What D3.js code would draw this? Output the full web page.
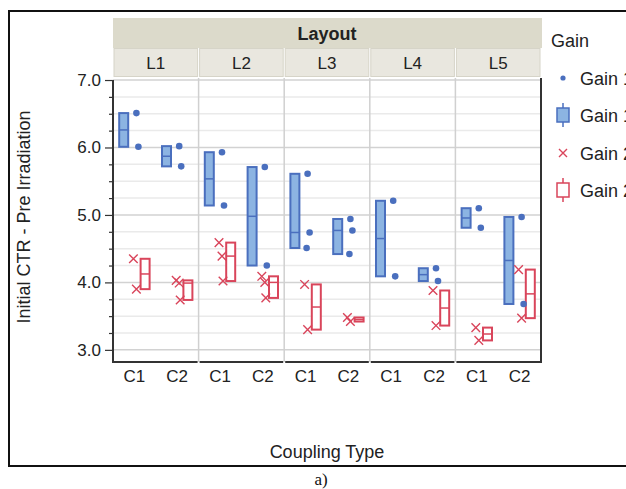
<!DOCTYPE html>
<html>
<head>
<meta charset="utf-8">
<script src="https://cdn.jsdelivr.net/npm/d3@7"></script>
<style>
  body { margin: 0; background: #fff; }
  svg { display: block; font-family: "Liberation Sans", Arial, sans-serif; }
</style>
</head>
<body>
<div id="chart"></div>
<script>
// data, one entry per layout (L1..L5)
const layouts = ["L1", "L2", "L3", "L4", "L5"];
const couplings = ["C1", "C2"];
const gains = ["Gain 1", "Gain 2"];

const gain1C1 = [[6.51, 6.01], [5.93, 5.14], [5.61, 4.74, 4.51], [5.21, 4.09], [5.10, 4.81]];
const gain1C2 = [[6.02, 5.72], [5.71, 4.25], [4.94, 4.77, 4.42], [4.21, 4.02], [4.97, 3.68]];
const gain2C1 = [[4.35, 3.90], [4.59, 4.39, 4.02], [3.97, 3.30], [], [3.33, 3.14]];
const gain2C2 = [[4.03, 3.99, 3.74], [4.09, 4.00, 3.77], [3.48, 3.42], [3.88, 3.36], [4.19, 3.47]];

const yTicks = [3.0, 4.0, 5.0, 6.0, 7.0];

const width = 626, height = 489;
const plot = {left: 113, right: 541, top: 78, bottom: 362};
const blue = "#4a6fbe", blueFill = "#8cb4e2", red = "#d9455b";
const jitter1 = [2, 4, 1], jitter2 = [-1, 2, 3];

const svg = d3.select("#chart").append("svg")
    .attr("width", width)
    .attr("height", height);

svg.append("rect").attr("width", width).attr("height", height).attr("fill", "#fff");

// outer frame
svg.append("rect")
    .attr("x", 9).attr("y", 11)
    .attr("width", 700).attr("height", 455)
    .attr("fill", "none").attr("stroke", "#111").attr("stroke-width", 2);

const y = d3.scaleLinear().domain([2.82, 7.03]).range([plot.bottom, plot.top]);
const xPanel = d3.scaleBand().domain(layouts).range([plot.left, plot.right]);
const xCat = d3.scaleBand().domain(couplings).range([0, xPanel.bandwidth()]);
const xGain = d3.scaleBand().domain(gains).range([0, xCat.bandwidth()]);

// JMP style quantile
function jmpQ(sorted, p) {
    const n = sorted.length;
    const r = p * (n + 1);
    if (r <= 1) return sorted[0];
    if (r >= n) return sorted[n - 1];
    const i = Math.floor(r);
    return sorted[i - 1] + (r - i) * (sorted[i] - sorted[i - 1]);
}

// header strips
svg.append("rect")
    .attr("x", plot.left).attr("y", 18)
    .attr("width", plot.right - plot.left + 1).attr("height", 30)
    .attr("fill", "#dcdacb");
svg.append("text")
    .attr("x", (plot.left + plot.right) / 2).attr("y", 39.5)
    .attr("text-anchor", "middle")
    .style("font-size", "18px").style("font-weight", "bold").style("fill", "#222")
    .text("Layout");

layouts.forEach(L => {
    svg.append("rect")
        .attr("x", xPanel(L) + 1).attr("y", 48.5)
        .attr("width", xPanel.bandwidth() - 2).attr("height", 28)
        .attr("fill", "#e9e7df").attr("stroke", "#d6d4c8");
    svg.append("text")
        .attr("x", xPanel(L) + xPanel.bandwidth() / 2).attr("y", 68.5)
        .attr("text-anchor", "middle")
        .style("font-size", "17px").style("fill", "#222")
        .text(L);
});

// gridlines
const minor = d3.range(3.0, 7.01, 0.25);
const isMajor = d => Math.abs(d - Math.round(d)) < 1e-6;
svg.append("g").selectAll("line")
    .data(minor)
    .join("line")
    .attr("x1", plot.left).attr("x2", plot.right)
    .attr("y1", d => y(d)).attr("y2", d => y(d))
    .attr("stroke", d => isMajor(d) ? "#d2d2d2" : "#eaeaea")
    .attr("stroke-width", 1.5);

// panel separators
svg.append("g").selectAll("line")
    .data(layouts.slice(1))
    .join("line")
    .attr("x1", d => xPanel(d)).attr("x2", d => xPanel(d))
    .attr("y1", plot.top).attr("y2", plot.bottom)
    .attr("stroke", "#d0d0d0").attr("stroke-width", 1.5);

// axes
const yAxis = svg.append("g")
    .attr("transform", `translate(${plot.left},0)`)
    .call(d3.axisLeft(y).tickValues(minor).tickSize(8).tickFormat(d => isMajor(d) ? d3.format(".1f")(d) : ""));
yAxis.select(".domain").remove();
yAxis.selectAll(".tick line")
    .attr("x2", d => isMajor(d) ? -8 : -4)
    .attr("stroke", "#333").attr("stroke-width", 1.2);
yAxis.selectAll("text").style("font-size", "17px").style("fill", "#222").attr("x", -12);

svg.append("line")
    .attr("x1", plot.left).attr("x2", plot.left)
    .attr("y1", y(7.0)).attr("y2", plot.bottom + 1)
    .attr("stroke", "#333").attr("stroke-width", 2);
svg.append("line")
    .attr("x1", plot.right).attr("x2", plot.right)
    .attr("y1", plot.top).attr("y2", plot.bottom + 1)
    .attr("stroke", "#333").attr("stroke-width", 2);

layouts.forEach(L => {
    const g = svg.append("g").attr("transform", `translate(${xPanel(L)},${plot.bottom})`);
    g.append("line")
        .attr("x1", 1).attr("x2", xPanel.bandwidth() - 1)
        .attr("stroke", "#333").attr("stroke-width", 2);
    const ax = g.append("g").call(d3.axisBottom(xCat).tickSize(0).tickPadding(8));
    ax.select(".domain").remove();
    ax.selectAll("text").style("font-size", "17px").style("fill", "#222");
});

svg.append("text")
    .attr("transform", `translate(30,217) rotate(-90)`)
    .attr("text-anchor", "middle")
    .style("font-size", "18px").style("fill", "#222")
    .text("Initial CTR - Pre Irradiation");

svg.append("text")
    .attr("x", (plot.left + plot.right) / 2).attr("y", 458)
    .attr("text-anchor", "middle")
    .style("font-size", "18px").style("fill", "#222")
    .text("Coupling Type");

svg.append("text")
    .attr("x", 321).attr("y", 485)
    .attr("text-anchor", "middle")
    .style("font-family", "'Liberation Serif', serif")
    .style("font-size", "17px").style("fill", "#111")
    .text("a)");

// marks
const groups = [];
layouts.forEach((L, i) => {
    groups.push({L, C: "C1", gain: "Gain 1", vals: gain1C1[i]});
    groups.push({L, C: "C2", gain: "Gain 1", vals: gain1C2[i]});
    groups.push({L, C: "C1", gain: "Gain 2", vals: gain2C1[i]});
    groups.push({L, C: "C2", gain: "Gain 2", vals: gain2C2[i]});
});

const boxW = 9;
groups.filter(d => d.vals.length).forEach(d => {
    const s = d.vals.slice().sort(d3.ascending);
    const q1 = jmpQ(s, 0.25), med = jmpQ(s, 0.5), q3 = jmpQ(s, 0.75);
    const cx = xPanel(d.L) + xCat(d.C) + xGain(d.gain) + xGain.bandwidth() / 2;
    const isBlue = d.gain === "Gain 1";
    const col = isBlue ? blue : red;
    svg.append("rect")
        .attr("x", cx - boxW / 2).attr("y", y(q3))
        .attr("width", boxW).attr("height", Math.max(y(q1) - y(q3), 1))
        .attr("fill", isBlue ? blueFill : "#fff")
        .attr("stroke", col).attr("stroke-width", 2);
    svg.append("line")
        .attr("x1", cx - boxW / 2).attr("x2", cx + boxW / 2)
        .attr("y1", y(med)).attr("y2", y(med))
        .attr("stroke", col).attr("stroke-width", 1.5);
});

groups.filter(d => d.vals.length).forEach(d => {
    const c = xPanel(d.L) + xCat(d.C) + xCat.bandwidth() / 2;
    if (d.gain === "Gain 1") {
        svg.append("g").selectAll("circle")
            .data(d.vals)
            .join("circle")
            .attr("cx", (v, j) => c + jitter1[j])
            .attr("cy", v => y(v))
            .attr("r", 3.3)
            .attr("fill", blue);
    } else {
        svg.append("g").selectAll("path")
            .data(d.vals)
            .join("path")
            .attr("d", (v, j) => {
                const px = c + jitter2[j], py = y(v), k = 4.3;
                return `M${px - k},${py - k}L${px + k},${py + k}M${px - k},${py + k}L${px + k},${py - k}`;
            })
            .attr("stroke", red).attr("stroke-width", 1.4).attr("fill", "none");
    }
});

// legend
const lg = svg.append("g").attr("transform", "translate(551,0)");
lg.append("text").attr("x", 0).attr("y", 47)
    .style("font-size", "18px").style("fill", "#222").text("Gain");
const items = ["Gain 1", "Gain 1", "Gain 2", "Gain 2"];
const rowY = [78, 115, 153, 190];
items.forEach((t, i) => {
    const cy = rowY[i], mx = 12;
    if (i === 0) {
        lg.append("circle").attr("cx", mx).attr("cy", cy).attr("r", 2.6).attr("fill", blue);
    } else if (i === 2) {
        lg.append("path")
            .attr("d", `M${mx - 4},${cy - 4}L${mx + 4},${cy + 4}M${mx - 4},${cy + 4}L${mx + 4},${cy - 4}`)
            .attr("stroke", red).attr("stroke-width", 1.4);
    } else {
        const col = i === 1 ? blue : red;
        lg.append("line").attr("x1", mx).attr("x2", mx).attr("y1", cy - 12).attr("y2", cy + 12)
            .attr("stroke", col).attr("stroke-width", 1.5);
        lg.append("rect").attr("x", mx - 6).attr("y", cy - 7).attr("width", 12).attr("height", 14)
            .attr("fill", i === 1 ? blueFill : "#fff").attr("stroke", col).attr("stroke-width", 1.5);
    }
    lg.append("text").attr("x", 29).attr("y", cy + 6.5)
        .style("font-size", "18px").style("fill", "#222").text(t);
});
</script>
</body>
</html>
